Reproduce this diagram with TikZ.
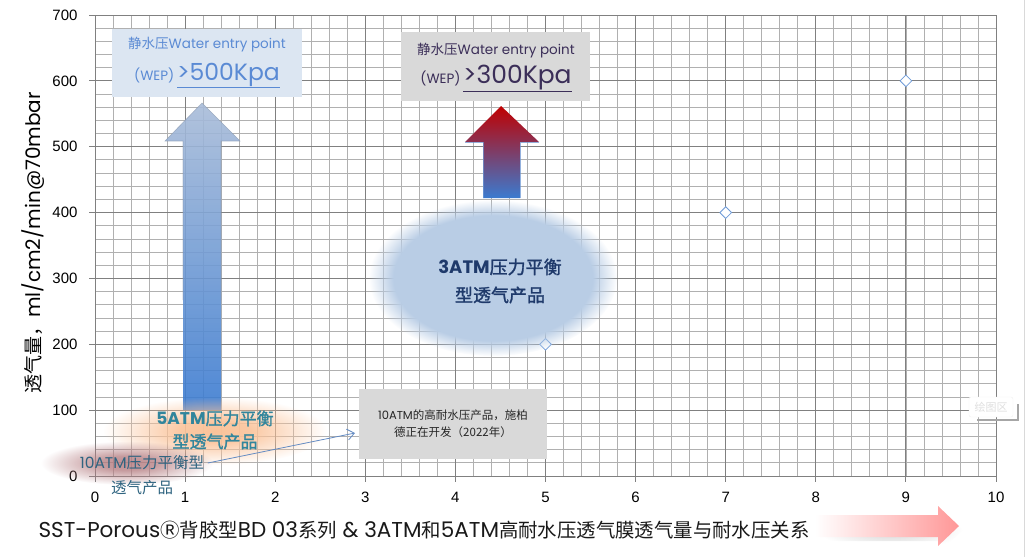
\documentclass[tikz,border=0pt]{standalone}
\usepackage{fontspec}
\setmainfont{Poppins}
\newfontfamily\cjk[AutoFakeBold=1.5]{Noto Sans CJK SC}
\newfontfamily\numfont{Liberation Sans}
\usetikzlibrary{shapes.geometric,fadings,arrows.meta}

\newcommand\zh[1]{{\cjk #1}}

% soft edged glows: solid core, fading rim
\pgfdeclareradialshading{coreglow}{\pgfpointorigin}{color(0bp)=(pgftransparent!0); color(20bp)=(pgftransparent!0); color(25bp)=(pgftransparent!100)}
\pgfdeclarefading{coreglow}{\pgfuseshading{coreglow}}
\pgfdeclareradialshading{hazeglow}{\pgfpointorigin}{color(0bp)=(pgftransparent!0); color(8bp)=(pgftransparent!10); color(25bp)=(pgftransparent!100)}
\pgfdeclarefading{hazeglow}{\pgfuseshading{hazeglow}}

\definecolor{gridminor}{HTML}{B0B0B0}
\definecolor{gridmajor}{HTML}{808080}
\definecolor{wepblue}{HTML}{DCE6F2}
\definecolor{weptext}{HTML}{5A8AD4}
\definecolor{boxgray}{HTML}{D9D9D9}
\definecolor{darkplum}{HTML}{3B2E58}
\definecolor{ellblue}{HTML}{B9CDE5}
\definecolor{navytext}{HTML}{1F3A6B}
\definecolor{peach}{HTML}{FAC39A}
\definecolor{tealtext}{HTML}{31859C}
\definecolor{dustyred}{HTML}{B47C80}
\definecolor{slatetext}{HTML}{2F6480}
\definecolor{pointblue}{HTML}{6F9BD8}
\definecolor{arrowred}{HTML}{C00000}
\definecolor{arrowblue}{HTML}{3B7BD0}
\definecolor{palearrow}{HTML}{A9BCD8}
\definecolor{pinkarrow}{HTML}{FF9797}

\tikzset{
  minorline/.style={gridminor, line width=0.8pt},
  majorline/.style={gridmajor, line width=0.9pt},
  ticklabel/.style={font=\numfont\fontsize{15}{15}\selectfont, text=black},
  glow/.style={path fading=coreglow},
  haze/.style={path fading=hazeglow},
  marker/.style={diamond, draw=pointblue, fill=white, inner sep=0pt,
    minimum width=12pt, minimum height=12pt, line width=0.8pt},
  pointer/.style={draw=pointblue!90!black, line width=0.8pt,
    -{Straight Barb[length=7pt, width=11pt]}},
}

\begin{document}
\begin{tikzpicture}[x=1pt, y=-1pt]
    \useasboundingbox (0,0) rectangle (1027,557);

    % Plot area in pixels: origin, scale per unit, top and right edge
    \def\xo{95}
    \def\yo{476}
    \def\xs{90.1}
    \def\ys{0.6586}
    \def\ytop{15}
    \def\xright{996}

    % Minor grid
    \foreach \i in {1,...,49} {
        \pgfmathsetmacro\xx{\xo + \i*\xs/5}
        \draw[minorline] (\xx, \ytop) -- (\xx, \yo);
    }
    \foreach \j in {1,...,34} {
        \pgfmathsetmacro\yy{\yo - \j*20*\ys}
        \draw[minorline] (\xo, \yy) -- (\xright, \yy);
    }

    % Major grid, ticks and labels
    \foreach \i in {0,...,10} {
        \pgfmathsetmacro\xx{\xo + \i*\xs}
        \draw[majorline] (\xx, \ytop) -- (\xx, \yo + 6);
        \node[ticklabel] (xl\i) at (\xx, 497) {\i};
    }
    \foreach \j in {0,...,7} {
        \pgfmathsetmacro\yy{\yo - \j*100*\ys}
        \draw[majorline] (\xo - 6, \yy) -- (\xright, \yy);
        \node[ticklabel, anchor=east] (yl\j) at (81, \yy) {\number\numexpr\j*100\relax};
    }

    % Data points
    \foreach \px/\py [count=\k] in {5/200, 7/400, 9/600} {
        \node[marker] (pt\k) at ({\xo + \px*\xs}, {\yo - \py*\ys}) {};
    }

    % Chart border on the right
    \draw[boxgray, line width=1pt] (1024, 0) -- (1024, 557);

    % Axis titles
    \node[rotate=90, font=\fontsize{20}{20}\selectfont, text=black] (ytitle) at (33, 243)
        {\zh{\fontsize{19}{19}\selectfont 透气量，}ml/cm2/min@70mbar};
    \node[anchor=base west, font=\fontsize{21.5}{22}\selectfont, text=black!90] (caption) at (35, 537)
        {SST-Porous\zh{\fontsize{19.4}{20}\selectfont Ⓡ背胶型}BD 03\zh{\fontsize{19.4}{20}\selectfont 系列} \& 3ATM\zh{\fontsize{19.4}{20}\selectfont 和}5ATM\zh{\fontsize{19.4}{20}\selectfont 高耐水压透气膜透气量与耐水压关系}};

    % Pink arrow next to the caption
    \fill[gray!25, haze] (819, 519) -- (942, 519) -- (942, 510) -- (963, 530) -- (942, 550) -- (942, 541) -- (819, 541) -- cycle;
    \shade[left color=white, right color=pinkarrow]
        (815, 515) -- (938, 515) -- (938, 506) -- (959, 526) -- (938, 546) -- (938, 537) -- (815, 537) -- cycle;

    % WEP > 500 box with the pale blue arrow
    \fill[wepblue] (112, 29) rectangle (302, 97);
    \node[anchor=base, font=\fontsize{13.5}{13.5}\selectfont, text=weptext] (wep5a) at (207, 48)
        {\zh{静水压}Water entry point};
    \node[anchor=base, text=weptext] (wep5b) at (207, 80)
        {{\fontsize{13.5}{13.5}\selectfont (WEP)} {\fontsize{23.5}{24}\selectfont\underline{>500Kpa}}};
    \shade[top color=palearrow, bottom color=arrowblue, fill opacity=0.9]
        (183, 410) -- (183, 141) -- (165, 141) -- (202, 103) -- (240, 141) -- (221, 141) -- (221, 410) -- cycle;
    \draw[palearrow!80!black, line width=0.6pt, opacity=0.6]
        (183, 300) -- (183, 141) -- (165, 141) -- (202, 103) -- (240, 141) -- (221, 141) -- (221, 300);

    % WEP > 300 box with the red to blue arrow
    \fill[boxgray] (401, 32) rectangle (590, 101);
    \node[anchor=base, font=\fontsize{13.5}{13.5}\selectfont, text=darkplum] (wep3a) at (496, 54)
        {\zh{静水压}Water entry point};
    \node[anchor=base, text=darkplum] (wep3b) at (496, 83)
        {{\fontsize{13.5}{13.5}\selectfont (WEP)} {\fontsize{25}{25}\selectfont\underline{>300Kpa}}};
    \shade[top color=arrowred, bottom color=arrowblue]
        (483, 198) -- (483, 142) -- (465, 142) -- (501, 106) -- (539, 142) -- (520, 142) -- (520, 198) -- cycle;
    \draw[pointblue, line width=0.6pt, opacity=0.7]
        (483, 198) -- (483, 142) -- (465, 142) (539, 142) -- (520, 142) -- (520, 198);

    % 3ATM cloud
    \fill[ellblue, glow] (493, 278) ellipse [x radius=124pt, y radius=78pt];
    \node[align=center, font=\bfseries\fontsize{18}{28}\selectfont, text=navytext] (atm3) at (500, 281)
        {3ATM\zh{压力平衡}\\\zh{型透气产品}};

    % 5ATM and 10ATM clouds
    \fill[peach, haze] (215, 431) ellipse [x radius=112pt, y radius=34pt];
    \fill[dustyred, haze, opacity=0.85] (127, 463) ellipse [x radius=86pt, y radius=22pt];
    \node[align=center, font=\bfseries\fontsize{17}{23}\selectfont, text=tealtext] (atm5) at (215, 430)
        {5ATM\zh{压力平衡}\\\zh{型透气产品}};
    \node[font=\fontsize{15.5}{15.5}\selectfont, text=slatetext] (atm10a) at (142, 463)
        {10ATM\zh{压力平衡型}};
    \node[font=\fontsize{15.5}{15.5}\selectfont, text=slatetext] (atm10b) at (142, 488)
        {\zh{透气产品}};

    % 10ATM note box
    \node[fill=boxgray, minimum width=188pt, minimum height=70pt, align=center,
        font=\fontsize{11.5}{17}\selectfont, text=black!85] (note) at (453, 424)
        {10ATM\zh{的高耐水压产品，施柏}\\\zh{德正在开发（2022年）}};
    \coordinate (noteend) at (355, 433);
    \draw[pointer] (atm10a.east) -- (noteend);

    % Faint plot area tip
    \draw[gray!70, line width=1.2pt] (977, 420) -- (1018, 420) -- (1018, 404);
    \node[draw=gray!12, fill=white, rounded corners=2pt, minimum width=44pt, minimum height=20pt,
        font=\cjk\fontsize{11}{11}\selectfont, text=gray!25] (plottip) at (991, 407) {绘图区};
\end{tikzpicture}
\end{document}
